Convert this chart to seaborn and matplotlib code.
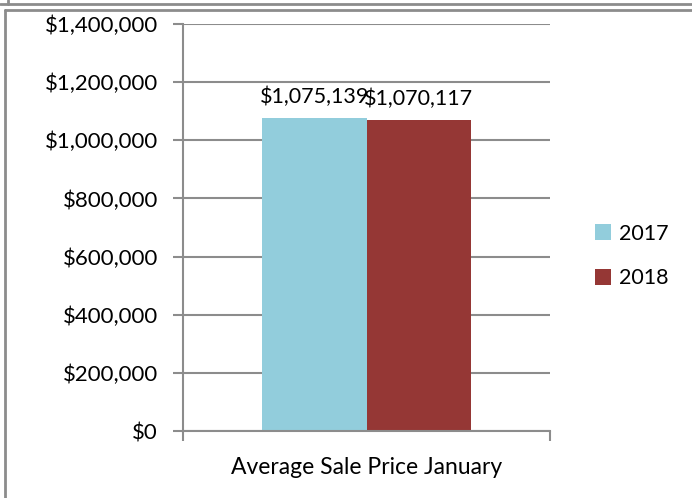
import matplotlib
matplotlib.use("Agg")
import matplotlib.pyplot as plt
import matplotlib.ticker as mticker
from matplotlib.lines import Line2D
import seaborn as sns
import pandas as pd

category = ["Average Sale Price January"]
years = ["2017", "2018"]
values = [1075139, 1070117]
colors = ["#92CDDC", "#953735"]
yticks = [0, 200000, 400000, 600000, 800000, 1000000, 1200000, 1400000]

df = pd.DataFrame({"cat": category * len(years), "year": years, "value": values})

sns.set_theme(style="white")
plt.rcParams["font.family"] = ["Lato", "DejaVu Sans"]
FS = 15.5

W, H = 692, 498
fig = plt.figure(figsize=(W / 100, H / 100), dpi=100)
ax = fig.add_axes([183 / W, (H - 431) / H, (550 - 183) / W, (431 - 24) / H])

sns.barplot(data=df, x="cat", y="value", hue="year", palette=colors,
            width=0.57, saturation=1, ax=ax, legend=True, errorbar=None,
            linewidth=0)

ax.set_xlim(-0.5, 0.5)
ax.set_ylim(0, 1400000)
ax.set_yticks(yticks)
ax.yaxis.set_major_formatter(mticker.FuncFormatter(lambda v, p: f"${v:,.0f}"))
ax.grid(axis="y", color="#8c8c8c", linewidth=1.5)
ax.set_axisbelow(True)
ax.set_xlabel("Average Sale Price January", fontsize=16.5, labelpad=8, color="black")
ax.set_ylabel("")
ax.set_xticks([])
ax.set_xticks([-0.5, 0.5], minor=True)
ax.tick_params(axis="x", which="minor", length=7, width=1.5, color="#8c8c8c", bottom=True)
ax.tick_params(axis="y", length=7, width=1.5, color="#8c8c8c", left=True,
               labelsize=16, pad=11, labelcolor="black")
for s in ["top", "right"]:
    ax.spines[s].set_visible(False)
for s in ["left", "bottom"]:
    ax.spines[s].set_color("#8c8c8c")
    ax.spines[s].set_linewidth(1.5)

for cont in ax.containers:
    ax.bar_label(cont, labels=[f"${v:,.0f}" for v in cont.datavalues],
                 padding=8, fontsize=FS, color="black")

leg = ax.legend(loc="center left", bbox_to_anchor=(1.07, 0.43), frameon=False,
                fontsize=FS, handlelength=0.75, handleheight=0.75,
                labelspacing=1.15, handletextpad=0.35)
for t in leg.get_texts():
    t.set_color("black")

# outer frames
def fl(x0, y0, x1, y1, lw=2.0):
    fig.add_artist(Line2D([x0 / W, x1 / W], [1 - y0 / H, 1 - y1 / H],
                          color="#8c8c8c", linewidth=lw, transform=fig.transFigure))

fl(0, 4, W, 4)
fl(8, 0, 8, 4)
fl(5, 10, W, 10)
fl(5, 10, 5, H)

fig.savefig("out.png", dpi=100)
